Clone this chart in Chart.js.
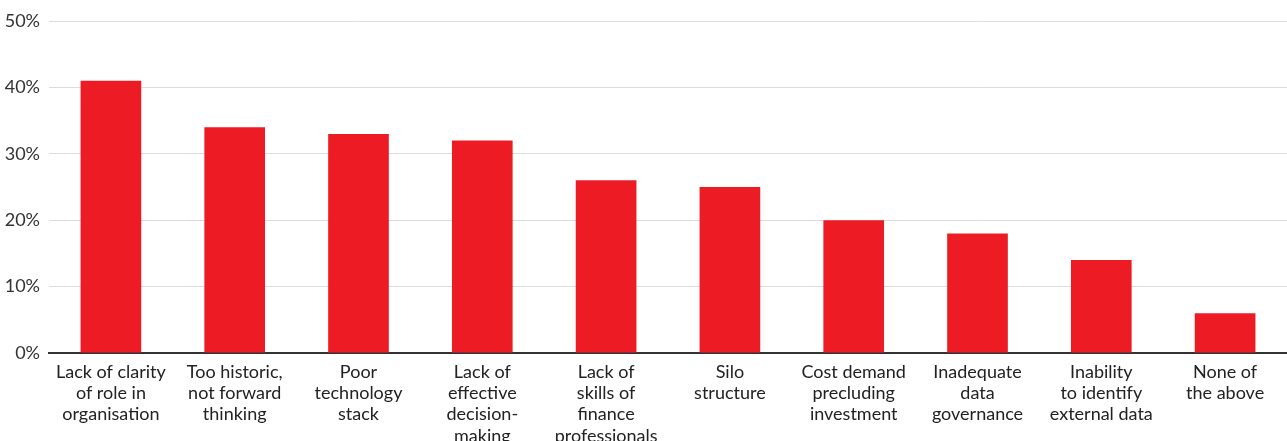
<!DOCTYPE html>
<html>
<head>
<meta charset="utf-8">
<script src="https://cdn.jsdelivr.net/npm/chart.js@4"></script>
<style>
  html, body { margin: 0; padding: 0; background: #fff; }
  #wrap { width: 1287px; height: 441px; }
</style>
</head>
<body>
<div id="wrap"><canvas id="myChart"></canvas></div>
<script>
let categories = [
  ["Lack of clarity", "of role in", "organisation"],
  ["Too historic,", "not forward", "thinking"],
  ["Poor", "technology", "stack"],
  ["Lack of", "effective", "decision-", "making"],
  ["Lack of", "skills of", "finance", "professionals"],
  ["Silo", "structure"],
  ["Cost demand", "precluding", "investment"],
  ["Inadequate", "data", "governance"],
  ["Inability", "to identify", "external data"],
  ["None of", "the above"]
];
let values = [41, 34, 33, 32, 26, 25, 20, 18, 14, 6];
let yTicks = [0, 10, 20, 30, 40, 50];

const ctx = document.getElementById("myChart");
new Chart(ctx, {
  type: "bar",
  data: {
    labels: categories,
    datasets: [
      {
        data: values,
        backgroundColor: "#ED1C24",
        barPercentage: 0.49,
        categoryPercentage: 1,
      },
    ],
  },
  options: {
    responsive: true,
    maintainAspectRatio: false,
    animation: false,
    layout: { padding: { top: 21, left: 0, right: 0, bottom: 0 } },
    plugins: { legend: { display: false }, tooltip: { enabled: false } },
    scales: {
      x: {
        grid: { display: false },
        border: { display: true, color: "#333", width: 2 },
        ticks: {
          color: "#222",
          padding: 1,
          maxRotation: 0,
          autoSkip: false,
          font: { family: "Lato", size: 18, lineHeight: 1.17 },
        },
        afterFit: (scale) => { scale.height = 88; },
      },
      y: {
        min: 0,
        max: 50,
        afterBuildTicks: (scale) => { scale.ticks = yTicks.map((v) => ({ value: v })); },
        grid: { color: "#dcdcdc", lineWidth: 1, drawTicks: false },
        border: { display: false },
        ticks: {
          color: "#333",
          padding: 9,
          font: { family: "Lato", size: 18 },
          callback: (v) => v + "%",
        },
        afterFit: (scale) => { scale.width = 49; },
      },
    },
  },
});
</script>
</body>
</html>
